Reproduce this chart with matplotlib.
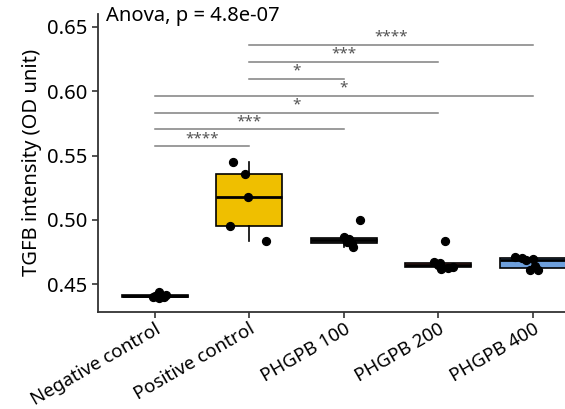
import numpy as np
import matplotlib.pyplot as plt

plt.rcParams['font.family'] = ['Noto Sans', 'DejaVu Sans']

groups = ['Negative control', 'Positive control', 'PHGPB 100', 'PHGPB 200', 'PHGPB 400']
neg = [0.4395, 0.440, 0.4405, 0.441, 0.4415, 0.442, 0.444]
pos = [0.545, 0.536, 0.518, 0.4955, 0.484]
p100 = [0.500, 0.4865, 0.4855, 0.483, 0.4815, 0.479]
p200 = [0.4835, 0.467, 0.4665, 0.465, 0.4635, 0.463, 0.462]
p400 = [0.4715, 0.4705, 0.470, 0.469, 0.464, 0.4612, 0.461]
values = [neg, pos, p100, p200, p400]

# horizontal jitter (in category units)
jitter = [
    [0.05, -0.02, 0.10, 0.0, 0.12, 0.06, 0.04],
    [-0.17, -0.04, -0.01, -0.20, 0.18],
    [0.17, 0.0, 0.06, 0.03, 0.09, 0.10],
    [0.07, -0.05, 0.02, 0.0, 0.16, 0.10, 0.03],
    [-0.19, -0.12, 0.0, -0.07, 0.02, 0.05, -0.03],
]

colors = ['#111111', '#EFBF00', '#555555', '#D0625A', '#6E9FDB']

# significance comparisons (index pairs) and labels, lowest first
pairs = [(0, 1), (0, 2), (0, 3), (0, 4), (1, 2), (1, 3), (1, 4)]
stars = ['****', '***', '*', '*', '*', '***', '****']

fig = plt.figure(figsize=(5.65, 4.09), dpi=100)
ax = fig.add_axes([0.1735, 0.238, 0.87, 0.728])

x = np.arange(len(groups))
bp = ax.boxplot(values, positions=x, widths=0.7, patch_artist=True,
                showfliers=False, whis=1.5,
                medianprops=dict(color='black', linewidth=2),
                boxprops=dict(edgecolor='black', linewidth=1.2),
                whiskerprops=dict(color='black', linewidth=1.2),
                capprops=dict(linewidth=0))
for patch, c in zip(bp['boxes'], colors):
    patch.set_facecolor(c)

for i, (v, j) in enumerate(zip(values, jitter)):
    ax.scatter(x[i] + np.array(j), v, s=32, color='black', zorder=3)

y0, step = 0.5571, 0.01316
for k, ((a, b), s) in enumerate(zip(pairs, stars)):
    yy = y0 + k * step
    ax.plot([a, b], [yy, yy], color='#808080', linewidth=1.1)
    ax.text((a + b) / 2, yy + 0.0003, s, ha='center', va='bottom',
            fontsize=11, color='#555555')

ax.text(-0.52, 0.6585, 'Anova, p = 4.8e-07', fontsize=14.5, va='center', ha='left')

ax.set_xlim(-0.6, 4.6)
ax.set_ylim(0.4288, 0.660)
ax.set_yticks([0.45, 0.50, 0.55, 0.60, 0.65])
ax.set_yticklabels(['0.45', '0.50', '0.55', '0.60', '0.65'], fontsize=14.5)
ax.set_xticks(x)
ax.set_xticklabels(groups, rotation=30, ha='right', rotation_mode='anchor', fontsize=13.5)
ax.set_ylabel('TGFB intensity (OD unit)', fontsize=14.5)
ax.tick_params(length=4, width=1.2, color='#333333')
ax.tick_params(axis='x', pad=2)
for s in ['top', 'right']:
    ax.spines[s].set_visible(False)
for s in ['left', 'bottom']:
    ax.spines[s].set_color('#333333')
    ax.spines[s].set_linewidth(1.3)

fig.savefig('out.png', dpi=100)
